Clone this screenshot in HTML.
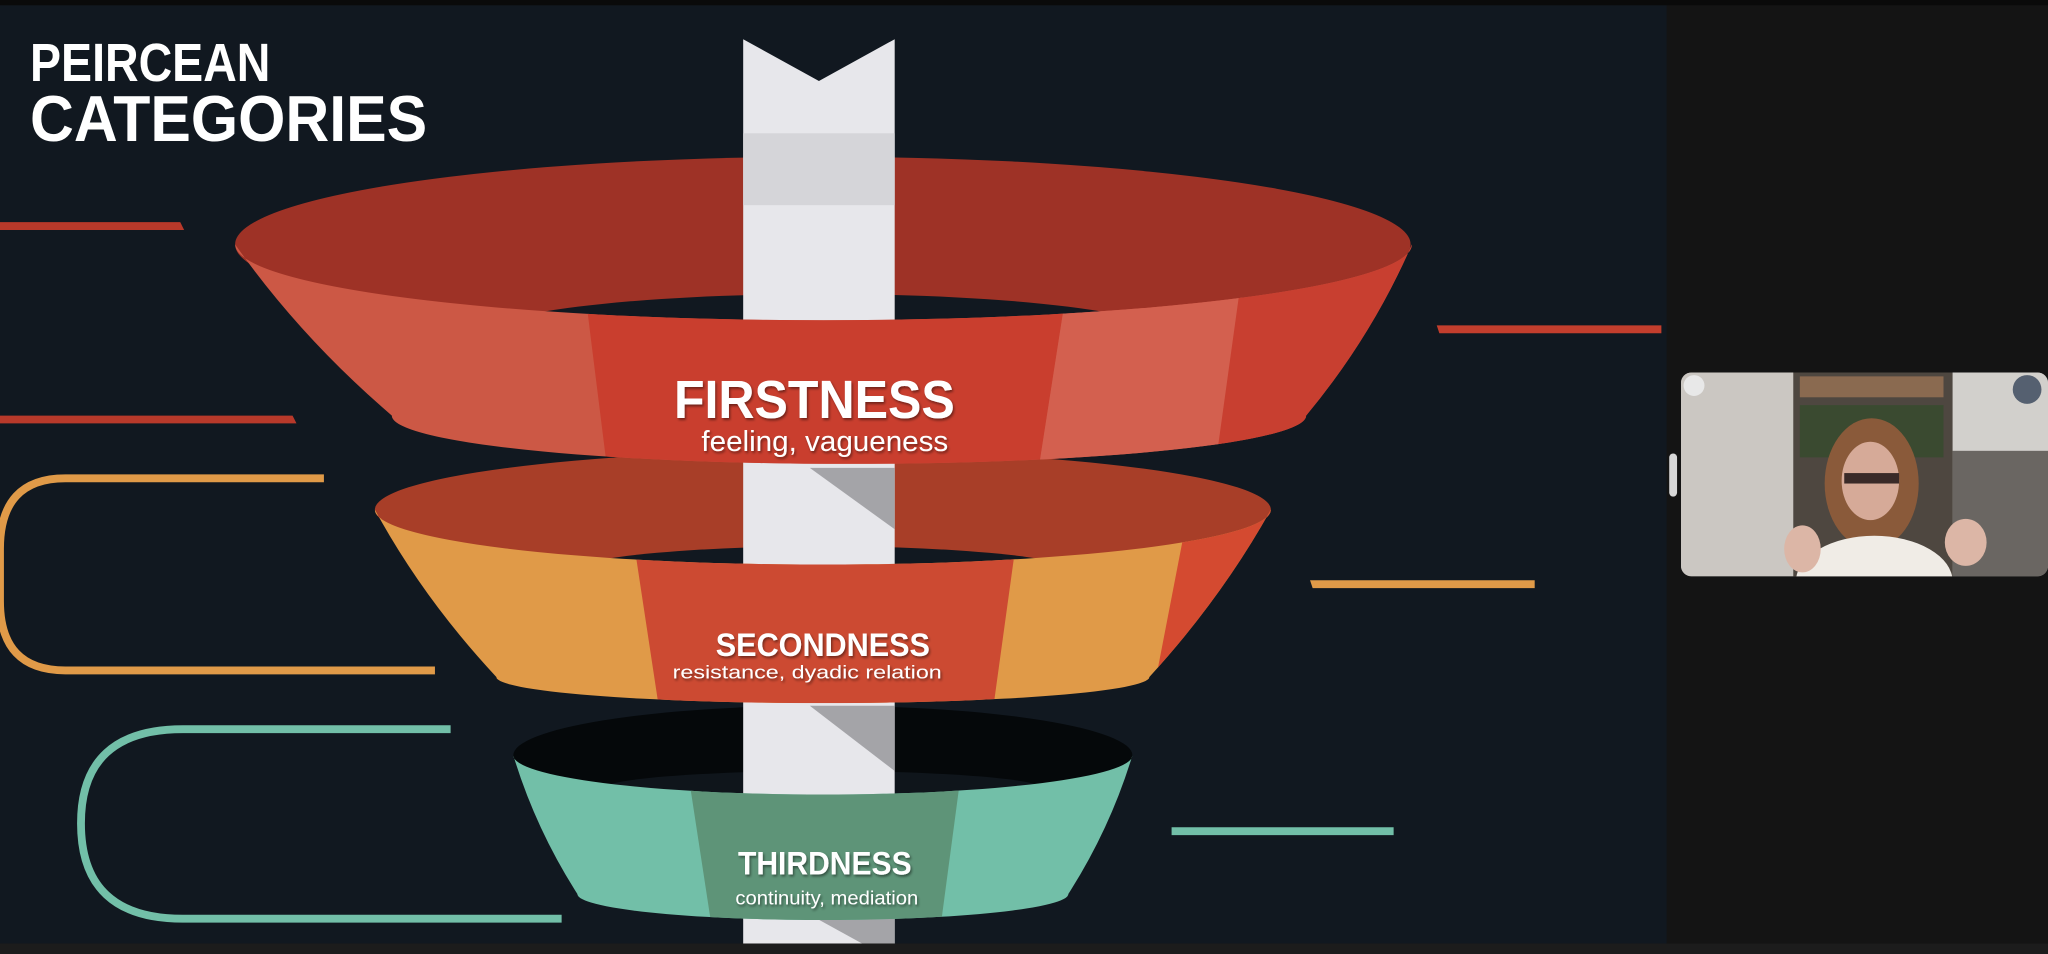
<!DOCTYPE html>
<html><head><meta charset="utf-8"><style>
html,body{margin:0;padding:0;background:#141414;}
svg{display:block}
text{font-family:"Liberation Sans",sans-serif;fill:#fff;font-weight:bold}
</style></head><body>
<svg width="2048" height="954" viewBox="0 0 1568 730" preserveAspectRatio="none" xmlns="http://www.w3.org/2000/svg">
<defs>
<filter id="sh" x="-10%" y="-20%" width="120%" height="150%"><feDropShadow dx="1" dy="1.5" stdDeviation="1" flood-color="#000" flood-opacity="0.45"/></filter>
<clipPath id="c1"><path d="M180,187 A450,58 0 0 0 1081,187 Q1050,258 1000,318 A350,37 0 0 1 300,318 Q230,258 180,187 Z"/></clipPath>
<clipPath id="c2"><path d="M287,390 A343,42 0 0 0 973,390 Q935,458 880,518 A250,20 0 0 1 380,518 Q324,458 287,390 Z"/></clipPath>
<clipPath id="c3"><path d="M393,578 A237,30 0 0 0 867,578 Q850,634 818,684 A188,20 0 0 1 442,684 Q410,634 393,578 Z"/></clipPath>
</defs>
<rect x="0" y="0" width="1568" height="730" fill="#141414"/>
<rect x="0" y="4" width="1276" height="718" fill="#111820"/>
<rect x="0" y="0" width="1568" height="4" fill="#0a0a0a"/>
<rect x="0" y="722" width="1568" height="8" fill="#1c1c1c"/>

<text x="23" y="62" font-size="41" textLength="184" lengthAdjust="spacingAndGlyphs">PEIRCEAN</text>
<text x="23" y="108" font-size="50" textLength="304" lengthAdjust="spacingAndGlyphs">CATEGORIES</text>

<polygon points="0,170 138,170 141,176 0,176" fill="#b8392a"/>
<polygon points="0,318 224,318 227,324 0,324" fill="#b8392a"/>
<polygon points="1100,249 1272,249 1272,255 1102,255" fill="#c33e2d"/>
<path d="M248,366 H50 Q0,366 0,420 V460 Q0,513 50,513 H333" fill="none" stroke="#e09a48" stroke-width="6"/>
<polygon points="1003,444 1175,444 1175,450 1005,450" fill="#e09a48"/>
<path d="M345,558 H140 Q62,558 62,630 Q62,703 140,703 H430" fill="none" stroke="#72bfa8" stroke-width="6"/>
<polygon points="897,633 1067,633 1067,639 897,639" fill="#72bfa8"/>

<ellipse cx="630" cy="578" rx="237" ry="38" fill="#05080a"/>
<ellipse cx="630" cy="604" rx="170" ry="14" fill="#0f151b"/>
<ellipse cx="630" cy="390" rx="343" ry="45" fill="#a83e28"/>
<ellipse cx="630" cy="440" rx="200" ry="22" fill="#111820"/>
<ellipse cx="630" cy="187" rx="450" ry="67" fill="#9e3226"/>
<ellipse cx="630" cy="258" rx="265" ry="33" fill="#111820"/>

<polygon points="569,30 627,62 685,30 685,722 569,722" fill="#e7e7eb"/>
<rect x="569" y="102" width="116" height="55" fill="#d5d5d9"/>
<polygon points="620,358 685,358 685,405" fill="#a4a4a8"/>
<polygon points="620,540 685,540 685,590" fill="#a4a4a8"/>
<polygon points="620,700 685,700 685,722 660,722" fill="#a4a4a8"/>

<g clip-path="url(#c3)">
<rect x="380" y="540" width="500" height="170" fill="#72bfa8"/>
<polygon points="522,560 740,560 720,710 545,710" fill="#5e9478"/>
</g>
<g clip-path="url(#c2)">
<rect x="280" y="380" width="700" height="170" fill="#e09a48"/>
<polygon points="483,400 780,400 760,545 505,545" fill="#cc4a32"/>
<polygon points="910,390 980,390 980,545 880,545" fill="#d44a30"/>
</g>
<g clip-path="url(#c1)">
<rect x="170" y="180" width="920" height="190" fill="#cc5845"/>
<polygon points="445,200 820,200 795,360 465,360" fill="#c93e2e"/>
<polygon points="820,200 955,200 930,360 795,360" fill="#d3604f"/>
<polygon points="955,180 1090,180 1090,360 930,360" fill="#c83f30"/>
</g>

<g filter="url(#sh)">
<text x="516" y="320" font-size="41" textLength="215" lengthAdjust="spacingAndGlyphs">FIRSTNESS</text>
<text x="537" y="345" font-size="22" style="font-weight:normal" textLength="189" lengthAdjust="spacingAndGlyphs">feeling, vagueness</text>
<text x="548" y="502" font-size="25" textLength="164" lengthAdjust="spacingAndGlyphs">SECONDNESS</text>
<text x="515" y="519" font-size="14" style="font-weight:normal" textLength="206" lengthAdjust="spacingAndGlyphs">resistance, dyadic relation</text>
<text x="565" y="669" font-size="25" textLength="133" lengthAdjust="spacingAndGlyphs">THIRDNESS</text>
<text x="563" y="692" font-size="15" style="font-weight:normal" textLength="140" lengthAdjust="spacingAndGlyphs">continuity, mediation</text>
</g>

<rect x="1278" y="347" width="6" height="33" rx="3" fill="#d8d8d8"/>

<clipPath id="vc"><rect x="1287" y="285" width="281" height="156" rx="8"/></clipPath>
<g clip-path="url(#vc)">
<rect x="1287" y="285" width="281" height="156" fill="#a9a6a3"/>
<rect x="1287" y="285" width="86" height="156" fill="#cbc7c2"/>
<rect x="1373" y="285" width="122" height="156" fill="#4e4740"/>
<rect x="1378" y="288" width="110" height="16" fill="#8a6a50"/>
<rect x="1378" y="310" width="110" height="40" fill="#3a4a30"/>
<rect x="1495" y="285" width="73" height="60" fill="#d2d0cc"/>
<rect x="1495" y="345" width="73" height="96" fill="#6a6662"/>
<circle cx="1552" cy="298" r="11" fill="#556070"/>
<ellipse cx="1433" cy="370" rx="36" ry="50" fill="#8a5a3a"/>
<ellipse cx="1432" cy="368" rx="22" ry="30" fill="#d6aa98"/>
<rect x="1412" y="362" width="42" height="8" fill="#3a2a28"/>
<ellipse cx="1435" cy="445" rx="60" ry="35" fill="#f0ece6"/>
<ellipse cx="1380" cy="420" rx="14" ry="18" fill="#dcb6a6"/>
<ellipse cx="1505" cy="415" rx="16" ry="18" fill="#dcb6a6"/>
<circle cx="1297" cy="295" r="8" fill="#e8e8e8"/>
</g>
</svg>
</body></html>
